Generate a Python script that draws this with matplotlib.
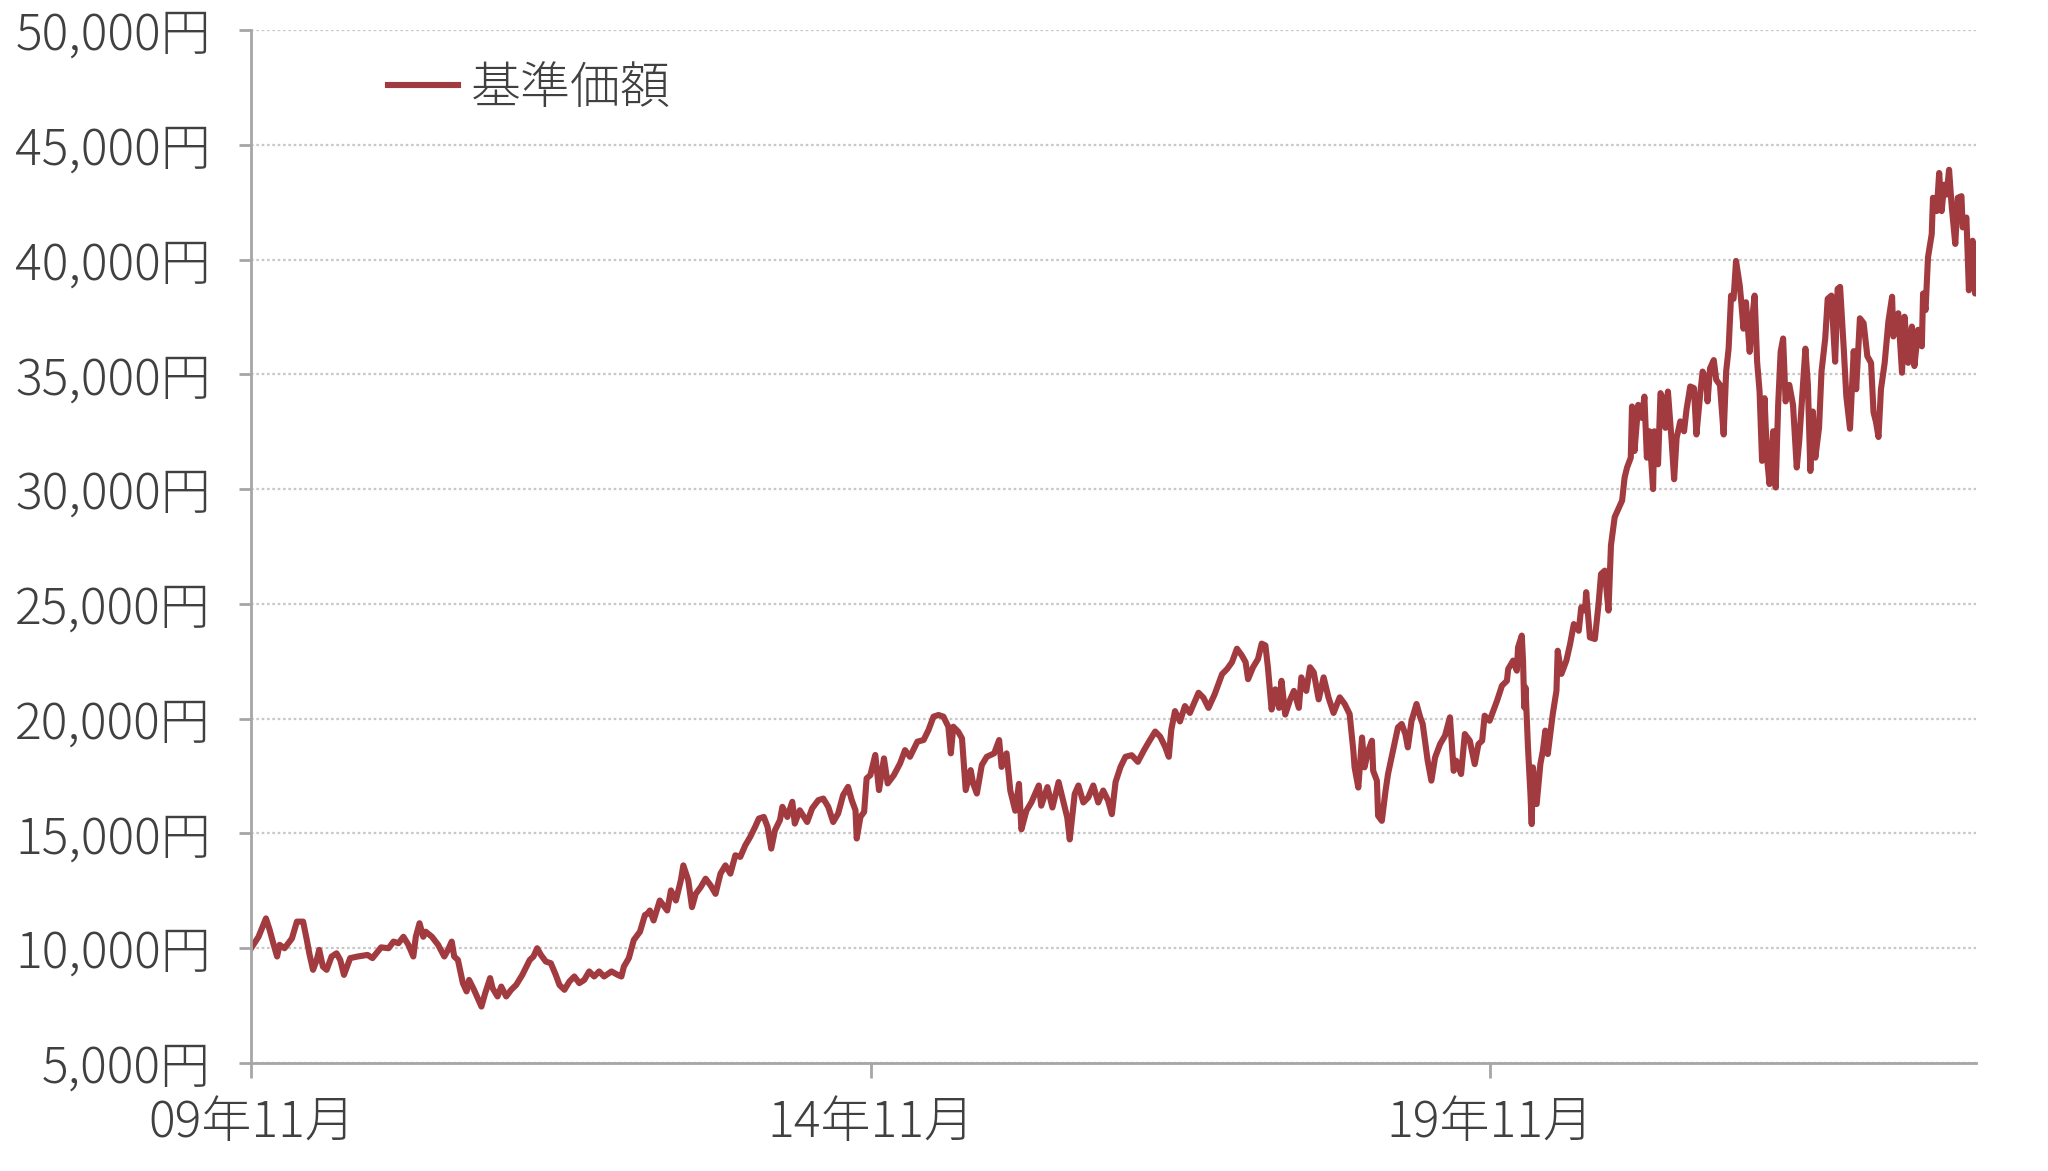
import matplotlib
matplotlib.use("Agg")
import matplotlib.pyplot as plt
import numpy as np

# fund NAV (基準価額), x in decimal years
yrs_a = [2009.83, 2009.89, 2009.95, 2009.98, 2010.01, 2010.04, 2010.06, 2010.10, 2010.16, 2010.20,
         2010.25, 2010.28, 2010.30, 2010.33, 2010.36, 2010.38, 2010.41, 2010.44, 2010.48, 2010.52,
         2010.55, 2010.58, 2010.63, 2010.69, 2010.77, 2010.81, 2010.88, 2010.94, 2010.98, 2011.02,
         2011.06, 2011.10, 2011.14, 2011.16, 2011.19, 2011.22, 2011.24, 2011.29, 2011.34, 2011.39,
         2011.42, 2011.45, 2011.47, 2011.50, 2011.54, 2011.57, 2011.59, 2011.63, 2011.66, 2011.69,
         2011.72, 2011.76, 2011.78, 2011.82, 2011.85, 2011.89, 2011.93, 2011.97, 2012.02, 2012.08,
         2012.11, 2012.14, 2012.17, 2012.21, 2012.25, 2012.29, 2012.32, 2012.36, 2012.40, 2012.44,
         2012.48, 2012.52, 2012.56, 2012.60, 2012.64, 2012.68, 2012.74, 2012.79, 2012.82, 2012.84,
         2012.88, 2012.92, 2012.97, 2013.01]
nav_a = [10000, 10500, 11300, 10800, 10200, 9640, 10150, 10000, 10430, 11160,
         11160, 10360, 9780, 9060, 9490, 9930, 9200, 9060, 9640, 9780,
         9490, 8840, 9570, 9640, 9710, 9570, 10040, 10000, 10290, 10220,
         10500, 10150, 9640, 10500, 11090, 10500, 10720, 10500, 10150, 9640,
         9930, 10290, 9640, 9490, 8480, 8120, 8620, 8190, 7830, 7460,
         8040, 8700, 8260, 7900, 8330, 7900, 8190, 8400, 8840, 9490,
         9640, 10000, 9710, 9420, 9350, 8840, 8400, 8190, 8550, 8770,
         8480, 8620, 8990, 8770, 8990, 8770, 8990, 8840, 8770, 9200,
         9570, 10360, 10720, 11450]

yrs_b = [2013.03, 2013.05, 2013.08, 2013.13, 2013.19, 2013.22, 2013.26, 2013.30, 2013.32, 2013.36,
         2013.39, 2013.42, 2013.46, 2013.50, 2013.54, 2013.58, 2013.62, 2013.66, 2013.70, 2013.74,
         2013.78, 2013.82, 2013.86, 2013.90, 2013.93, 2013.97, 2014.00, 2014.03, 2014.06, 2014.10,
         2014.12, 2014.16, 2014.20, 2014.22, 2014.26, 2014.32, 2014.36, 2014.41, 2014.45, 2014.49,
         2014.53, 2014.57, 2014.61, 2014.65, 2014.68, 2014.71, 2014.72, 2014.75, 2014.78, 2014.80,
         2014.83, 2014.87, 2014.90, 2014.94, 2014.97, 2015.02, 2015.07, 2015.11, 2015.15, 2015.21,
         2015.26, 2015.30, 2015.34, 2015.38, 2015.42, 2015.46, 2015.48, 2015.50, 2015.54, 2015.57,
         2015.60, 2015.64, 2015.66, 2015.69, 2015.73, 2015.77]
nav_b = [11500, 11645, 11210, 12080, 11645, 12520, 12080, 12960, 13610, 12960,
         11790, 12370, 12660, 13030, 12740, 12370, 13250, 13610, 13250, 14050,
         13980, 14480, 14850, 15290, 15650, 15720, 15290, 14340, 15140, 15580,
         16160, 15720, 16380, 15430, 16010, 15500, 16090, 16450, 16520, 16160,
         15500, 15870, 16670, 17030, 16450, 16010, 14780, 15720, 15940, 17400,
         17540, 18420, 16890, 18270, 17180, 17540, 18050, 18630, 18340, 19000,
         19070, 19510, 20090, 20160, 20090, 19650, 18490, 19650, 19430, 19140,
         16890, 17760, 17180, 16740, 17980, 18340]

yrs_c = [2015.83, 2015.87, 2015.89, 2015.93, 2015.96, 2016.00, 2016.03, 2016.05, 2016.09, 2016.13,
         2016.19, 2016.21, 2016.26, 2016.30, 2016.35, 2016.39, 2016.42, 2016.44, 2016.48, 2016.51,
         2016.55, 2016.59, 2016.63, 2016.67, 2016.71, 2016.75, 2016.78, 2016.81, 2016.85, 2016.89,
         2016.94, 2016.99, 2017.04, 2017.08, 2017.13, 2017.17, 2017.21, 2017.24, 2017.26, 2017.29,
         2017.33, 2017.37, 2017.41, 2017.48, 2017.52, 2017.56, 2017.61, 2017.64, 2017.67, 2017.71,
         2017.75, 2017.79, 2017.83, 2017.86, 2017.88, 2017.92, 2017.96, 2017.99, 2018.02, 2018.04,
         2018.07, 2018.10, 2018.13, 2018.15, 2018.18, 2018.22, 2018.25, 2018.29, 2018.31, 2018.35,
         2018.38, 2018.41, 2018.45, 2018.49, 2018.53, 2018.57]
nav_c = [18490, 19070, 17900, 18490, 16870, 15990, 17160, 15180, 15990, 16350,
         17090, 16210, 17020, 16130, 17240, 16350, 15690, 14740, 16720, 17090,
         16350, 16570, 17090, 16350, 16870, 16430, 15840, 17240, 17900, 18340,
         18410, 18120, 18630, 19000, 19440, 19220, 18780, 18340, 19520, 20330,
         19880, 20550, 20250, 21130, 20910, 20470, 21060, 21500, 21940, 22160,
         22460, 23050, 22750, 22460, 21720, 22240, 22600, 23270, 23190, 22240,
         20400, 21280, 20470, 21650, 20180, 20840, 21210, 20470, 21800, 21210,
         22240, 22020, 20840, 21800, 20910, 20250]

yrs_d = [2018.62, 2018.66, 2018.70, 2018.73, 2018.74, 2018.77, 2018.80, 2018.82, 2018.85, 2018.88,
         2018.89, 2018.92, 2018.93, 2018.96, 2018.99, 2019.01, 2019.05, 2019.09, 2019.12, 2019.15,
         2019.17, 2019.20, 2019.24, 2019.27, 2019.29, 2019.33, 2019.36, 2019.39, 2019.43, 2019.47,
         2019.51, 2019.54, 2019.56, 2019.60, 2019.63, 2019.67, 2019.71, 2019.74, 2019.77, 2019.79,
         2019.83, 2019.86, 2019.89, 2019.93, 2019.97, 2019.98, 2020.02, 2020.05, 2020.06, 2020.09,
         2020.10, 2020.11, 2020.12, 2020.14, 2020.16, 2020.17, 2020.18, 2020.21, 2020.24, 2020.26,
         2020.28, 2020.30, 2020.34, 2020.37, 2020.38, 2020.41, 2020.45, 2020.48, 2020.51, 2020.55,
         2020.57, 2020.60, 2020.61, 2020.64, 2020.68, 2020.71, 2020.73, 2020.76, 2020.79]
nav_d = [20930, 20640, 20200, 18600, 17880, 17000, 19180, 17880, 18600, 19040,
         17730, 17300, 15770, 15550, 16860, 17590, 18600, 19620, 19770, 19330,
         18750, 19910, 20640, 20060, 19770, 18170, 17300, 18310, 18890, 19260,
         20060, 17730, 18170, 17590, 19330, 19040, 18020, 18890, 19040, 20130,
         19910, 20350, 20780, 21440, 21650, 22160, 22530, 22090, 23110, 23620,
         22530, 20490, 21360, 18750, 16710, 15410, 17880, 16280, 18020, 18600,
         19480, 18460, 20200, 21220, 22960, 21950, 22530, 23250, 24120, 23830,
         24850, 24710, 25510, 23540, 23470, 25000, 26300, 26450, 24710]

yrs_e = [2020.81, 2020.84, 2020.87, 2020.90, 2020.92, 2020.94, 2020.97, 2020.98, 2021.00, 2021.03,
         2021.06, 2021.08, 2021.10, 2021.12, 2021.15, 2021.16, 2021.19, 2021.21, 2021.24, 2021.25,
         2021.27, 2021.30, 2021.32, 2021.34, 2021.37, 2021.40, 2021.42, 2021.45, 2021.48, 2021.50,
         2021.53, 2021.55, 2021.58, 2021.59, 2021.61, 2021.64, 2021.66, 2021.69, 2021.72, 2021.74,
         2021.76, 2021.78, 2021.80, 2021.82, 2021.85, 2021.86, 2021.88, 2021.90, 2021.93, 2021.95,
         2021.97, 2021.99, 2022.01, 2022.03, 2022.05, 2022.07, 2022.09, 2022.12, 2022.14, 2022.16,
         2022.18, 2022.20, 2022.22, 2022.25, 2022.28, 2022.31, 2022.33, 2022.36, 2022.38, 2022.40,
         2022.42, 2022.44, 2022.46, 2022.49, 2022.51, 2022.54, 2022.56, 2022.59, 2022.62, 2022.64]
nav_e = [27550, 28780, 29140, 29500, 30500, 30940, 31370, 33600, 31660, 33670,
         33100, 34030, 31370, 32520, 30000, 32520, 31080, 34180, 33820, 32670,
         34250, 32090, 30430, 32230, 32950, 32520, 33460, 34470, 34400, 32380,
         34110, 35120, 34760, 33820, 35260, 35620, 34760, 34540, 32380, 35120,
         36120, 38430, 38290, 39940, 38860, 38290, 36990, 38140, 35980, 37420,
         38430, 35550, 34250, 31230, 33960, 31370, 30220, 32520, 30070, 33670,
         35980, 36560, 33820, 34540, 33670, 30940, 32090, 34540, 36120, 34540,
         30790, 33380, 31370, 32670, 35120, 36560, 38290, 38430, 35550, 38720]

yrs_f = [2022.66, 2022.69, 2022.71, 2022.74, 2022.77, 2022.79, 2022.82, 2022.85, 2022.88, 2022.91,
         2022.93, 2022.95, 2022.97, 2022.99, 2023.02, 2023.05, 2023.08, 2023.09, 2023.13, 2023.16,
         2023.18, 2023.21, 2023.24, 2023.26, 2023.29, 2023.32, 2023.33, 2023.35, 2023.37, 2023.40,
         2023.41, 2023.44, 2023.46, 2023.48, 2023.50, 2023.52, 2023.54, 2023.56, 2023.59, 2023.61,
         2023.64, 2023.65, 2023.68, 2023.70, 2023.73, 2023.75, 2023.76]
nav_f = [38810, 36080, 34070, 32630, 36010, 34350, 37440, 37230, 35790, 35500,
         33350, 32920, 32270, 34350, 35500, 37300, 38380, 36650, 37660, 35070,
         37510, 35500, 37080, 35360, 36940, 36220, 38520, 37800, 40100, 41110,
         42690, 42110, 43770, 42110, 43260, 42830, 43910, 42400, 40680, 42690,
         42760, 41400, 41830, 38660, 40820, 38520, 40250]

x_ticks = [2009.833, 2014.833, 2019.833]
x_labels = ['09年11月', '14年11月', '19年11月']
y_ticks = list(range(5000, 50001, 5000))

years = np.array(yrs_a + yrs_b + yrs_c + yrs_d + yrs_e + yrs_f)
nav = np.array(nav_a + nav_b + nav_c + nav_d + nav_e + nav_f)

plt.rcParams['font.family'] = ['Noto Sans CJK JP', 'DejaVu Sans']
plt.rcParams['font.weight'] = 'light'
text_col = '#404040'
axis_col = '#a6a6a6'

fig = plt.figure(figsize=(20.48, 11.71), dpi=100)
ax = fig.add_axes([0.1226, 0.0922, 0.8424, 0.8822])

ax.plot(years, nav, color='#a23b40', lw=4.4, solid_joinstyle='round', label='基準価額')

ax.set_xlim(years[0], years[-1])
ax.set_ylim(5000, 50000)
ax.set_yticks(y_ticks)
ax.set_yticklabels([f'{v:,}円' for v in y_ticks])
ax.set_xticks(x_ticks)
ax.set_xticklabels(x_labels)

ax.grid(axis='y', color='#c8c8c8', ls=(0, (1.2, 1.2)), lw=1.6)
ax.set_axisbelow(True)

for side in ['top', 'right']:
    ax.spines[side].set_visible(False)
for side in ['left', 'bottom']:
    ax.spines[side].set_color(axis_col)
    ax.spines[side].set_linewidth(2)

ax.tick_params(axis='y', length=9, width=2, color=axis_col, pad=20,
               labelsize=36, labelcolor=text_col)
ax.tick_params(axis='x', length=11, width=2, color=axis_col, pad=14,
               labelsize=36, labelcolor=text_col)

leg = ax.legend(loc='center left', bbox_to_anchor=(0.0794, 0.943), frameon=False,
                fontsize=36, handlelength=1.4, handletextpad=0.25,
                borderpad=0, borderaxespad=0)
for t in leg.get_texts():
    t.set_color(text_col)

fig.savefig('out.png', dpi=100)
